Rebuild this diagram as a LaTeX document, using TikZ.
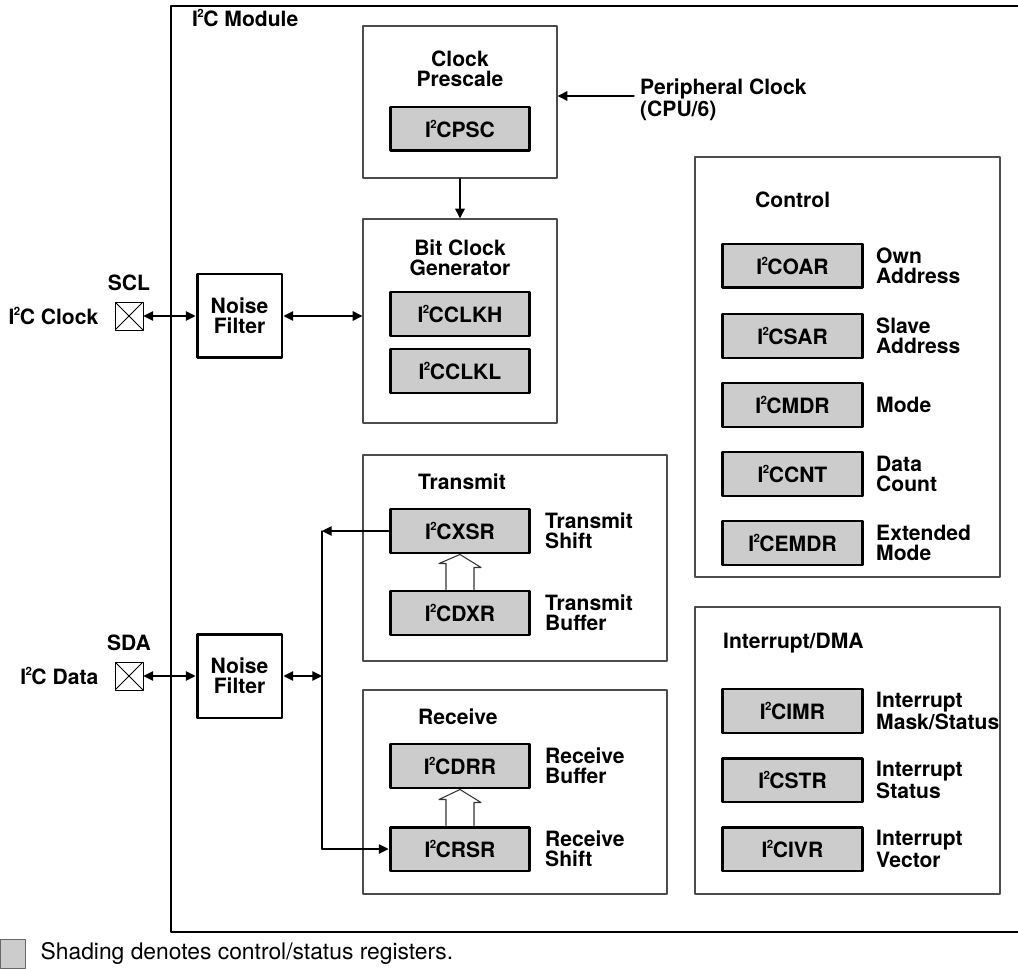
\documentclass[tikz,border=0pt]{standalone}
\usepackage{fontspec}
\setmainfont{TeX Gyre Heros}
\usetikzlibrary{positioning,arrows.meta}
\newcommand{\iic}{I\kern-.03em\raisebox{.78ex}{\fontsize{6.5}{6.5}\selectfont 2}\kern-.02em C}

\begin{document}
\begin{tikzpicture}[x=0.02cm, y=-0.02cm, >={Triangle[length=5.5pt,width=5.4pt]}, line join=round, line cap=round,
	every node/.style={font=\fontsize{12}{11.2}\selectfont\bfseries},
	unit/.style={draw=black!70, line width=0.7pt, minimum width=3.88cm, inner sep=0pt},
	reg/.style={draw, line width=1.7pt, fill=black!20, minimum width=2.8cm, minimum height=0.88cm, inner sep=0pt},
	filter/.style={draw, line width=1.7pt, fill=white, minimum width=1.7cm, minimum height=1.68cm, align=center, inner sep=0pt},
	pinbox/.style={draw, line width=0.5pt, minimum size=0.56cm, inner sep=0pt, path picture={\draw[line width=0.5pt] (path picture bounding box.north west) -- (path picture bounding box.south east) (path picture bounding box.south west) -- (path picture bounding box.north east);}},
	regtext/.style={anchor=west, align=left},
	link/.style={line width=0.75pt},
	hollow/.style={draw=black!80, line width=0.6pt, fill=white}]
	
	\useasboundingbox (0,0) rectangle (1018,969);
	
	\draw[line width=1.1pt] (1018,6) -| (171,932) -- (1018,932);
	
	\node[anchor=west] (modname) at (186,18) {\iic\ Module};
	
	\node[unit, minimum height=3.04cm] (prescale) at (460,102) {};
	
	\node[align=center] (pstitle) at (460,69) {Clock\\Prescale};
	
	\node[reg] (psc) at (460,129) {\iic PSC};
	
	\node[anchor=west, align=left] (pclk) at (634,100) {Peripheral Clock\\(CPU/6)};
	
	\draw[link,->] ([yshift=0.08cm]pclk.west) -- ([yshift=0.08cm]pclk.west -| prescale.east);
	
	\node[unit, minimum height=4.08cm] (bitclk) at (460,321) {};
	
	\node[align=center] (bctitle) at (460,258) {Bit Clock\\Generator};
	
	\node[reg] (clkh) at (460,314) {\iic CLKH};
	
	\node[reg] (clkl) at (460,371) {\iic CLKL};
	
	\draw[link,->] (prescale.south) -- (bitclk.north);
	
	\node[unit, minimum width=6.08cm, minimum height=4.12cm] (txunit) at (515,558) {};
	
	\node[anchor=west] (txtitle) at (412,482) {Transmit};
	
	\node[reg] (xsr) at (460,531) {\iic XSR};
	
	\node[regtext] at (539,531) {Transmit\\Shift};
	
	\node[reg] (dxr) at (460,613) {\iic DXR};
	
	\node[regtext] at (539,613) {Transmit\\Buffer};
	
	\draw[hollow] ([xshift=-0.28cm]dxr.north) -- ++(0,-26) -- ++(-7,0) -- (xsr.south) -- ++(21,13) -- ++(-7,0) -- ([xshift=0.28cm]dxr.north);
	
	\node[unit, minimum width=6.08cm, minimum height=4.08cm] (rxunit) at (515,792) {};
	
	\node[anchor=west] (rxtitle) at (412,717) {Receive};
	
	\node[reg] (drr) at (460,766) {\iic DRR};
	
	\node[regtext] at (539,766) {Receive\\Buffer};
	
	\node[reg] (rsr) at (460,849) {\iic RSR};
	
	\node[regtext] at (539,849) {Receive\\Shift};
	
	\draw[hollow] ([xshift=-0.28cm]rsr.north) -- ++(0,-26) -- ++(-7,0) -- (drr.south) -- ++(21,13) -- ++(-7,0) -- ([xshift=0.28cm]rsr.north);
	
	\node[filter] (nfscl) at (239.5,316) {Noise\\Filter};
	
	\node[pinbox] (sclpin) at (129,316) {};
	
	\node[above=0.1cm of sclpin] {SCL};
	
	\node[left=0.2cm of sclpin] {\iic\ Clock};
	
	\draw[link,<->] (sclpin.east) -- (nfscl.west);
	
	\draw[link,<->] (nfscl.east) -- (nfscl.east -| bitclk.west);
	
	\node[filter] (nfsda) at (239.5,676) {Noise\\Filter};
	
	\node[pinbox] (sdapin) at (129,676) {};
	
	\node[above=0.1cm of sdapin] {SDA};
	
	\node[left=0.2cm of sdapin] {\iic\ Data};
	
	\draw[link,<->] (sdapin.east) -- (nfsda.west);
	
	\coordinate (bustop) at (322,531);
	
	\coordinate (busmid) at (322,676);
	
	\coordinate (busbot) at (322,849);
	
	\draw[link] (bustop) -- (busbot);
	
	\draw[link,<->] (nfsda.east) -- (busmid);
	
	\draw[link,->] (xsr.west) -- (bustop);
	
	\draw[link,->] (busbot) -- (rsr.west);
	
	\node[unit, minimum width=6.1cm, minimum height=8.4cm] (ctrlunit) at (847.5,367) {};
	
	\node[anchor=west] (ctrltitle) at (749,200) {Control};
	
	\node[reg] (oar) at (792.5,266) {\iic OAR};
	
	\node[regtext] at (870,266) {Own\\Address};
	
	\node[reg] (sar) at (792.5,336) {\iic SAR};
	
	\node[regtext] at (870,336) {Slave\\Address};
	
	\node[reg] (mdr) at (792.5,405) {\iic MDR};
	
	\node[regtext] at (870,405) {Mode};
	
	\node[reg] (cnt) at (792.5,474) {\iic CNT};
	
	\node[regtext] at (870,474) {Data\\Count};
	
	\node[reg] (emdr) at (792.5,543) {\iic EMDR};
	
	\node[regtext] at (870,543) {Extended\\Mode};
	
	\node[unit, minimum width=6.1cm, minimum height=5.74cm] (intunit) at (847.5,750.5) {};
	
	\node[anchor=west] (inttitle) at (717,643) {Interrupt/DMA};
	
	\node[reg] (imr) at (792.5,711) {\iic IMR};
	
	\node[regtext] at (870,711) {Interrupt\\Mask/Status};
	
	\node[reg] (str) at (792.5,780) {\iic STR};
	
	\node[regtext] at (870,780) {Interrupt\\Status};
	
	\node[reg] (ivr) at (792.5,849) {\iic IVR};
	
	\node[regtext] at (870,849) {Interrupt\\Vector};
	
	\node[draw=black!60, fill=black!20, line width=0.5pt, minimum width=0.5cm, minimum height=0.58cm, inner sep=0pt] (key) at (12.5,953.5) {};
	
	\node[right=0.18cm of key, font=\fontsize{13}{13}\selectfont] {Shading denotes control/status registers.};
	
\end{tikzpicture}
\end{document}
